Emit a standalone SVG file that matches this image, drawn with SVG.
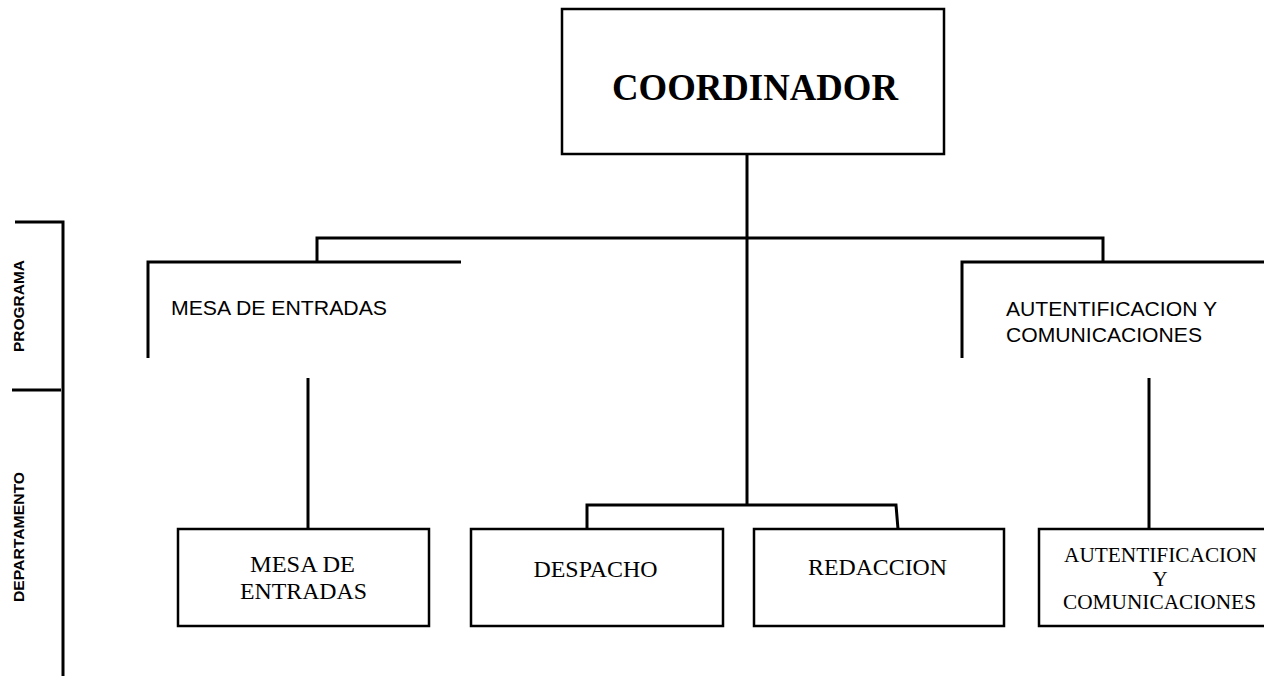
<svg xmlns="http://www.w3.org/2000/svg" width="1264" height="676" viewBox="0 0 1264 676">
<style>
.box{fill:#fff;stroke:#000;stroke-width:2.5}
.ln{fill:none;stroke:#000;stroke-width:3}
.tb{font-family:"Liberation Serif","Times New Roman",serif;fill:#000}
.ta{font-family:"Liberation Sans",Arial,sans-serif;fill:#000;font-size:21px}
.lab{font-family:"Liberation Sans",Arial,sans-serif;font-weight:bold;font-size:15.5px;fill:#000}
</style>
<rect width="1264" height="676" fill="#fff"/>
<g id="axis">
<path class="ln" d="M15,222 H63 V676 M12,390 H61"/>
<text class="lab" transform="translate(24,306) rotate(-90)" text-anchor="middle" textLength="92" lengthAdjust="spacingAndGlyphs">PROGRAMA</text>
<text class="lab" transform="translate(24,537) rotate(-90)" text-anchor="middle" textLength="130" lengthAdjust="spacingAndGlyphs">DEPARTAMENTO</text>
</g>
<g id="connectors">
<path class="ln" d="M747,154 V505"/>
<path class="ln" d="M317,262 V238 H1103 V262"/>
<path class="ln" d="M587,529 V505 H896 L898,529"/>
<path class="ln" d="M308,378 V529"/>
<path class="ln" d="M1149,378 V529"/>
</g>
<g id="coordinador">
<rect class="box" x="562" y="9" width="382" height="145"/>
<text class="tb" x="755" y="100" text-anchor="middle" font-size="37" font-weight="bold" textLength="286" lengthAdjust="spacingAndGlyphs">COORDINADOR</text>
</g>
<g id="prog-mesa">
<path class="ln" d="M461,262 H148 V358"/>
<text class="ta" x="171" y="315" textLength="216" lengthAdjust="spacingAndGlyphs">MESA DE ENTRADAS</text>
</g>
<g id="prog-autent">
<path class="ln" d="M1264,262 H962 V358"/>
<text class="ta" x="1006" y="316" textLength="211" lengthAdjust="spacingAndGlyphs">AUTENTIFICACION Y</text>
<text class="ta" x="1006" y="342" textLength="196" lengthAdjust="spacingAndGlyphs">COMUNICACIONES</text>
</g>
<g id="dep-mesa">
<rect class="box" x="178" y="529" width="251" height="97"/>
<text class="tb" x="302.5" y="572" text-anchor="middle" font-size="23.5" textLength="105" lengthAdjust="spacingAndGlyphs">MESA DE</text>
<text class="tb" x="303.5" y="599" text-anchor="middle" font-size="23.5" textLength="127" lengthAdjust="spacingAndGlyphs">ENTRADAS</text>
</g>
<g id="dep-despacho">
<rect class="box" x="471" y="529" width="252" height="97"/>
<text class="tb" x="595.5" y="577" text-anchor="middle" font-size="23.5" textLength="124" lengthAdjust="spacingAndGlyphs">DESPACHO</text>
</g>
<g id="dep-redaccion">
<rect class="box" x="754" y="529" width="250" height="97"/>
<text class="tb" x="877.5" y="575" text-anchor="middle" font-size="23.5" textLength="139" lengthAdjust="spacingAndGlyphs">REDACCION</text>
</g>
<g id="dep-autent">
<rect class="box" x="1039" y="529" width="228" height="97"/>
<text class="tb" x="1160.5" y="562" text-anchor="middle" font-size="21" textLength="193" lengthAdjust="spacingAndGlyphs">AUTENTIFICACION</text>
<text class="tb" x="1160" y="586" text-anchor="middle" font-size="21">Y</text>
<text class="tb" x="1159.5" y="609" text-anchor="middle" font-size="21" textLength="193" lengthAdjust="spacingAndGlyphs">COMUNICACIONES</text>
</g>
</svg>
